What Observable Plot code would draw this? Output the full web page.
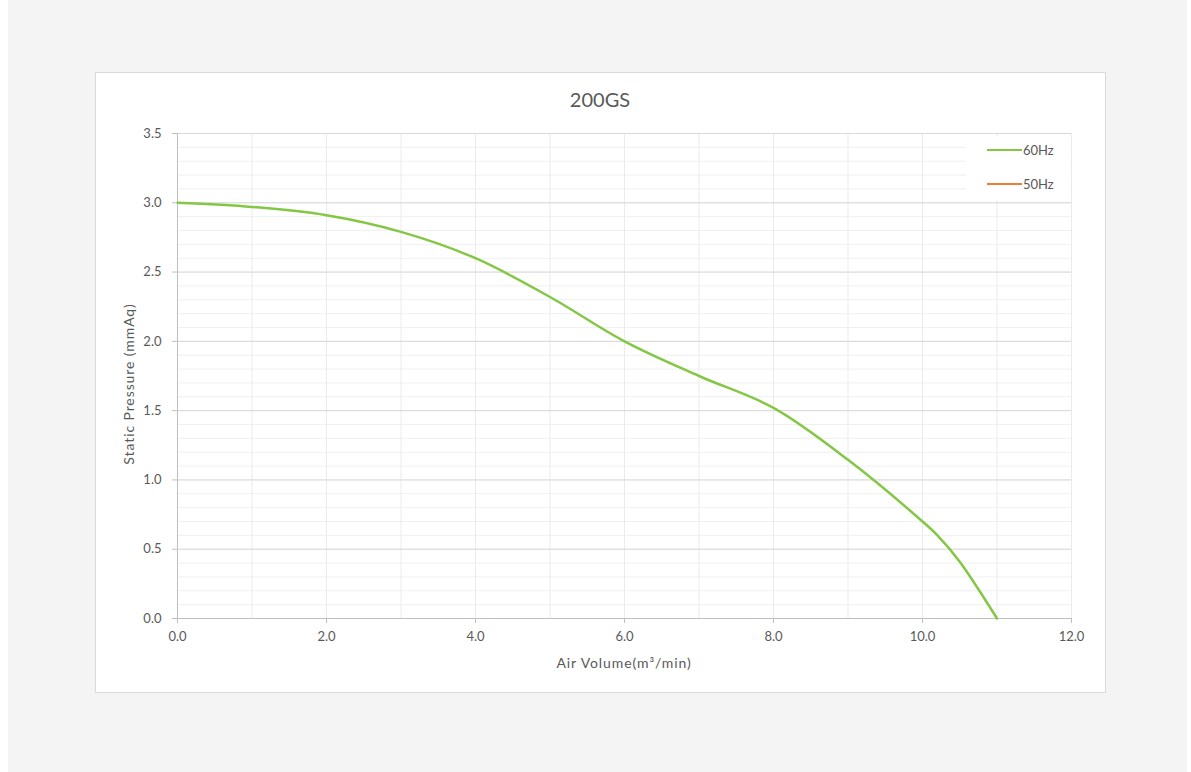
<!DOCTYPE html>
<html>
<head>
<meta charset="utf-8">
<script src="https://cdn.jsdelivr.net/npm/d3@7"></script>
<script src="https://cdn.jsdelivr.net/npm/@observablehq/plot@0.6"></script>
<style>
  html, body { margin: 0; padding: 0; background: #ffffff; }
  body { width: 1191px; height: 772px; position: relative; overflow: hidden; font-family: Lato, "Open Sans", sans-serif; color: #595959; }
  #bg { position: absolute; left: 8px; top: 0; width: 1179px; height: 772px; background: #f4f4f4; }
  #box { position: absolute; left: 95px; top: 72px; width: 1009px; height: 619px; background: #ffffff; border: 1px solid #d9d9d9; }
  #title { position: absolute; left: 95px; width: 1010px; top: 87px; text-align: center; font-size: 20px; color: #595959; }
  #chart { position: absolute; left: 95px; top: 120px; }
  #xlabel { position: absolute; left: 177px; width: 894px; top: 654px; text-align: center; font-size: 14px; letter-spacing: 0.9px; }
  #ylabel { position: absolute; left: 128px; top: 384px; width: 0; height: 0; }
  #ylabel span { position: absolute; white-space: nowrap; transform: translate(-50%, -50%) rotate(-90deg); font-size: 14px; letter-spacing: 0.9px; left: 0; top: 0; }
  #legend { position: absolute; left: 966px; top: 136px; width: 104px; height: 64px; background: #ffffff; }
  .lg { position: absolute; left: 21px; height: 16px; font-size: 13px; display: flex; align-items: center; }
  .sw { display: inline-block; width: 35px; height: 2.5px; margin-right: 1px; }
</style>
</head>
<body>
<div id="bg"></div>
<div id="box"></div>
<div id="title">200GS</div>
<div id="chart"></div>
<div id="xlabel">Air Volume(m³/min)</div>
<div id="ylabel"><span>Static Pressure (mmAq)</span></div>
<div id="legend"></div>
<script>
// ---- data ----
const airVolume60 = [0, 1, 2, 3, 4, 5, 6, 7, 8, 9, 10, 10.2, 10.5, 11];
const pressure60  = [3.0, 2.97, 2.91, 2.79, 2.60, 2.32, 2.00, 1.75, 1.52, 1.145, 0.70, 0.60, 0.41, 0.0];
const airVolume50 = [];
const pressure50  = [];
const seriesNames = ["60Hz", "50Hz"];
const seriesColors = ["#84c745", "#ed7d31"];
const xTicks = [0, 2, 4, 6, 8, 10, 12];
const yTicks = [0, 0.5, 1.0, 1.5, 2.0, 2.5, 3.0, 3.5];
const xGrid = [1, 2, 3, 4, 5, 6, 7, 8, 9, 10, 11, 12];
const yMinor = d3.range(0, 36).map(i => i / 10);

const rows = [
  ...airVolume60.map((x, i) => ({x, y: pressure60[i], s: seriesNames[0]})),
  ...airVolume50.map((x, i) => ({x, y: pressure50[i], s: seriesNames[1]}))
];

const fmt = d3.format(".1f");
const chart = Plot.plot({
  width: 1010,
  height: 560,
  marginLeft: 82,
  marginRight: 34,
  marginTop: 13,
  marginBottom: 62,
  style: {fontFamily: "Lato, 'Open Sans', sans-serif", fontSize: "13px", color: "#595959", background: "transparent", overflow: "visible"},
  x: {domain: [0, 12]},
  y: {domain: [0, 3.5]},
  color: {domain: seriesNames, range: seriesColors},
  marks: [
    Plot.ruleY(yMinor, {stroke: "#f0f0f0", strokeWidth: 1}),
    Plot.ruleX(xGrid, {stroke: "#ebebeb", strokeWidth: 1}),
    Plot.ruleY(yTicks.filter(d => d > 0), {stroke: "#d9d9d9", strokeWidth: 1}),
    Plot.ruleX([0], {stroke: "#bfbfbf", strokeWidth: 1}),
    Plot.ruleY([0], {stroke: "#bfbfbf", strokeWidth: 1}),
    Plot.line(rows, {x: "x", y: "y", z: "s", stroke: "s", strokeWidth: 2.5, curve: "catmull-rom"}),
    Plot.axisX({ticks: xTicks, tickFormat: fmt, tickSize: 5, tickPadding: 8, stroke: "#bfbfbf", fill: "#595959", label: null}),
    Plot.axisY({ticks: yTicks, tickFormat: fmt, tickSize: 5, tickPadding: 11, stroke: "#bfbfbf", fill: "#595959", label: null})
  ]
});
document.getElementById("chart").appendChild(chart);

// legend
const legend = document.getElementById("legend");
seriesNames.forEach((name, i) => {
  const row = document.createElement("div");
  row.className = "lg";
  row.style.top = (6 + i * 34) + "px";
  const sw = document.createElement("span");
  sw.className = "sw";
  sw.style.background = seriesColors[i];
  const t = document.createElement("span");
  t.textContent = name;
  row.appendChild(sw);
  row.appendChild(t);
  legend.appendChild(row);
});
</script>
</body>
</html>
